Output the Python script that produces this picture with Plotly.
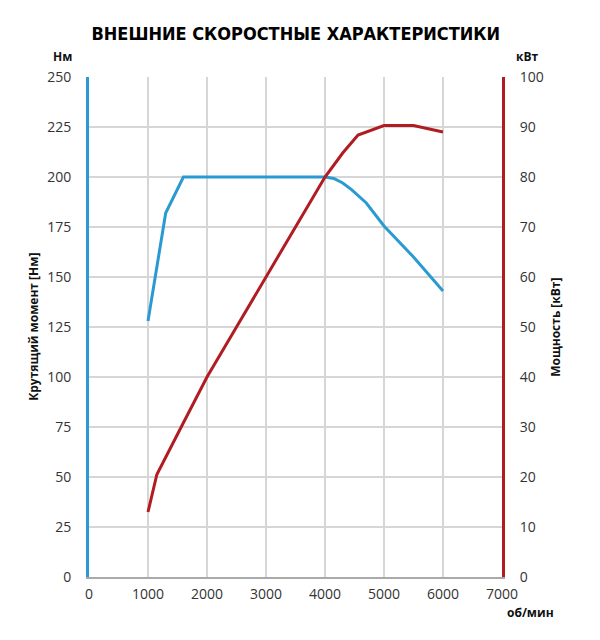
import plotly.graph_objects as go

rpm_torque = [1000, 1300, 1600, 2000, 3000, 3900, 4000, 4150, 4300, 4450, 4700, 5000, 5500, 6000]
torque_nm = [128, 182, 200, 200, 200, 200, 200, 199.3, 197, 193.7, 187, 175.5, 160, 143]

rpm_power = [1000, 1150, 1550, 2000, 2500, 3000, 3500, 4000, 4300, 4560, 5000, 5500, 6000]
power_kw = [13, 20.5, 29.7, 40, 50, 60, 70, 80, 84.8, 88.4, 90.3, 90.3, 89]

x_ticks = [0, 1000, 2000, 3000, 4000, 5000, 6000, 7000]
y_ticks = [0, 25, 50, 75, 100, 125, 150, 175, 200, 225, 250]
y2_ticks = [0, 10, 20, 30, 40, 50, 60, 70, 80, 90, 100]

BLUE = "#2a9bd0"
RED = "#b01c22"
GRID = "#d6d6d6"
TICKFONT = dict(family="Open Sans", size=14, color="#333333")

fig = go.Figure()
fig.add_trace(go.Scatter(x=rpm_power, y=power_kw, yaxis="y2", mode="lines",
                         line=dict(color=RED, width=3), showlegend=False))
fig.add_trace(go.Scatter(x=rpm_torque, y=torque_nm, mode="lines",
                         line=dict(color=BLUE, width=3), showlegend=False))

fig.update_layout(
    width=600, height=640,
    margin=dict(l=89, r=98, t=77, b=63),
    paper_bgcolor="white", plot_bgcolor="white",
    xaxis=dict(range=[0, 7000], tickvals=x_ticks, showgrid=True, gridcolor=GRID, gridwidth=1.5,
               showline=True, linecolor="#aaaaaa", linewidth=2, zeroline=False,
               tickfont=TICKFONT, ticks="", ticklabelstandoff=3),
    yaxis=dict(range=[0, 250], tickvals=y_ticks, showgrid=True, gridcolor=GRID, gridwidth=1.5,
               showline=True, linecolor=BLUE, linewidth=3, zeroline=False,
               tickfont=TICKFONT, ticks="", ticklabelstandoff=12),
    yaxis2=dict(range=[0, 100], tickvals=y2_ticks, overlaying="y", side="right", showgrid=False,
                showline=True, linecolor=RED, linewidth=3, zeroline=False,
                tickfont=TICKFONT, ticks="", ticklabelstandoff=12),
    title=dict(text="<b>ВНЕШНИЕ СКОРОСТНЫЕ ХАРАКТЕРИСТИКИ</b>", x=0.493, xanchor="center",
               y=0.948, yanchor="middle",
               font=dict(family="DejaVu Sans Condensed", size=18, color="#000000")),
)

ann_font = dict(family="Open Sans", size=12, color="#111111")
fig.add_annotation(text="<b>Нм</b>", xref="paper", yref="paper", x=-0.065, y=1.04,
                   showarrow=False, font=ann_font, xanchor="center", yanchor="middle")
fig.add_annotation(text="<b>кВт</b>", xref="paper", yref="paper", x=1.06, y=1.04,
                   showarrow=False, font=ann_font, xanchor="center", yanchor="middle")
fig.add_annotation(text="<b>об/мин</b>", xref="paper", yref="paper", x=1.07, y=-0.07,
                   showarrow=False, font=ann_font, xanchor="center", yanchor="middle")
fig.add_annotation(text="<b>Крутящий момент [Нм]</b>", xref="paper", yref="paper", x=-0.136, y=0.5,
                   showarrow=False, font=ann_font, textangle=-90, xanchor="center", yanchor="middle")
fig.add_annotation(text="<b>Мощность [кВт]</b>", xref="paper", yref="paper", x=1.128, y=0.5,
                   showarrow=False, font=ann_font, textangle=-90, xanchor="center", yanchor="middle")

fig.write_html("out.html")
